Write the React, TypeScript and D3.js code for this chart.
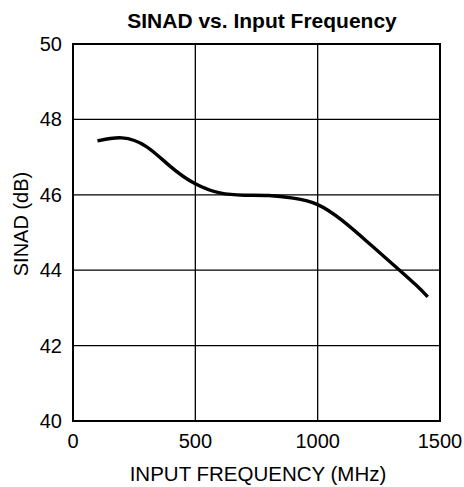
import * as d3 from "d3";
import { useEffect, useRef } from "react";

const freqs = [100, 200, 300, 400, 500, 600, 700, 800, 900, 1000, 1100, 1200, 1300, 1400, 1450];
const sinad = [47.43, 47.51, 47.28, 46.74, 46.29, 46.05, 45.99, 45.98, 45.91, 45.74, 45.32, 44.77, 44.2, 43.62, 43.29];
const xTicks = [0, 500, 1000, 1500];
const yTicks = [40, 42, 44, 46, 48, 50];

const W = 464;
const H = 487;

const App = () => {
  const ref = useRef<SVGSVGElement | null>(null);

  useEffect(() => {
    if (!ref.current) return;
    const svg = d3.select(ref.current);
    svg.selectAll("*").remove();

    const margin = { top: 44, right: 24, bottom: 66, left: 73 };
    const font = "Liberation Sans, Arial, sans-serif";

    const x = d3.scaleLinear().domain([0, 1500]).range([margin.left, W - margin.right]);
    const y = d3.scaleLinear().domain([40, 50]).range([H - margin.bottom, margin.top]);

    svg.append("rect").attr("width", W).attr("height", H).attr("fill", "#fff");

    // grid
    const grid = svg.append("g").attr("stroke", "#000").attr("stroke-width", 1.3);
    xTicks.slice(1, -1).forEach((t) => {
      grid.append("line").attr("x1", x(t)).attr("x2", x(t)).attr("y1", y(40)).attr("y2", y(50));
    });
    yTicks.slice(1, -1).forEach((t) => {
      grid.append("line").attr("x1", x(0)).attr("x2", x(1500)).attr("y1", y(t)).attr("y2", y(t));
    });

    svg
      .append("rect")
      .attr("x", x(0))
      .attr("y", y(50))
      .attr("width", x(1500) - x(0))
      .attr("height", y(40) - y(50))
      .attr("fill", "none")
      .attr("stroke", "#000")
      .attr("stroke-width", 2);

    // tick labels
    svg
      .append("g")
      .selectAll("text")
      .data(xTicks)
      .join("text")
      .attr("x", (d) => x(d))
      .attr("y", 448)
      .attr("text-anchor", "middle")
      .attr("font-family", font)
      .attr("font-size", 20)
      .text((d) => d);

    svg
      .append("g")
      .selectAll("text")
      .data(yTicks)
      .join("text")
      .attr("x", x(0) - 11)
      .attr("y", (d) => y(d) + 7)
      .attr("text-anchor", "end")
      .attr("font-family", font)
      .attr("font-size", 20)
      .text((d) => d);

    // curve
    const line = d3
      .line<number>()
      .x((_, i) => x(freqs[i]))
      .y((d) => y(d))
      .curve(d3.curveNatural);

    svg
      .append("path")
      .attr("d", line(sinad))
      .attr("fill", "none")
      .attr("stroke", "#000")
      .attr("stroke-width", 3.4);

    // titles
    svg
      .append("text")
      .attr("x", 262)
      .attr("y", 28)
      .attr("text-anchor", "middle")
      .attr("font-family", font)
      .attr("font-weight", "bold")
      .attr("font-size", 21)
      .text("SINAD vs. Input Frequency");

    svg
      .append("text")
      .attr("x", 258)
      .attr("y", 481)
      .attr("text-anchor", "middle")
      .attr("font-family", font)
      .attr("font-size", 20.5)
      .text("INPUT FREQUENCY (MHz)");

    svg
      .append("text")
      .attr("transform", `translate(28,224) rotate(-90)`)
      .attr("text-anchor", "middle")
      .attr("font-family", font)
      .attr("font-size", 20)
      .text("SINAD (dB)");
  }, []);

  return (
    <svg
      ref={ref}
      width={W}
      height={H}
      style={{ position: "absolute", left: 0, top: 0, display: "block" }}
    />
  );
};

export default App;
